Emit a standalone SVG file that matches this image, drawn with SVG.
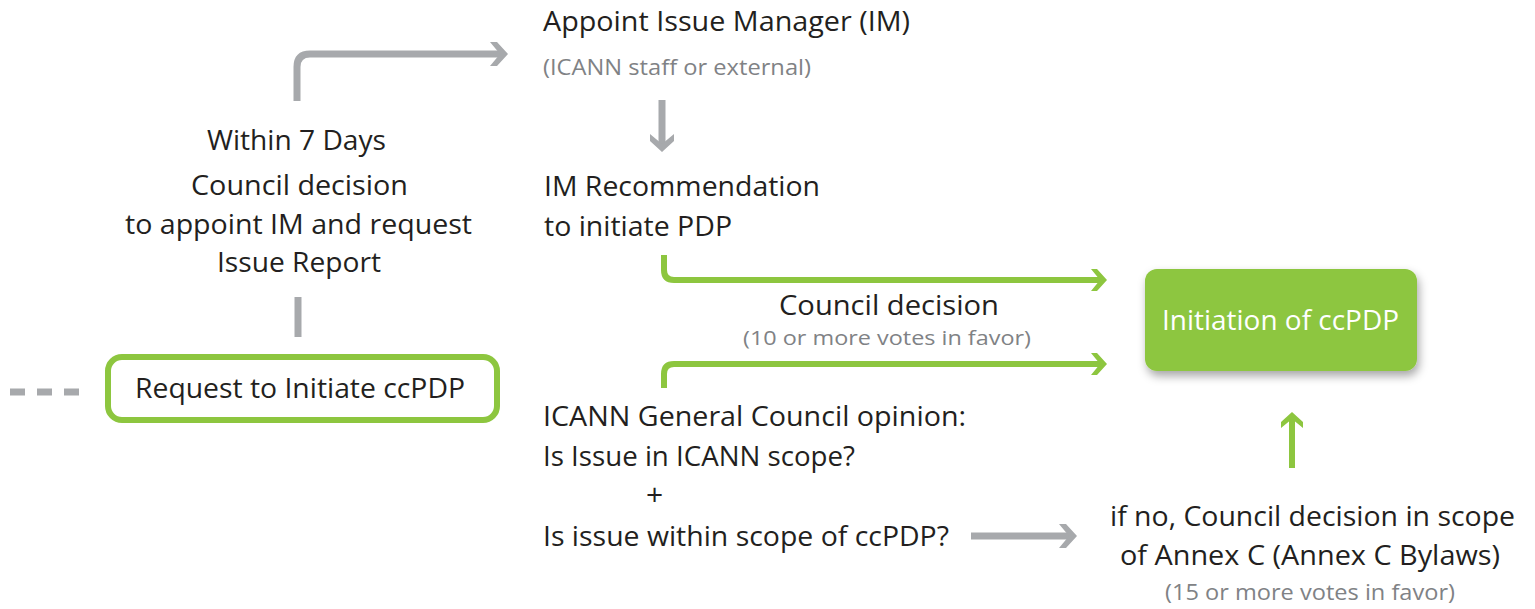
<svg xmlns="http://www.w3.org/2000/svg" width="1535" height="609" viewBox="0 0 1535 609">
<style>
  text { font-family: "Open Sans", "Liberation Sans", sans-serif; }
  .t { font-size: 28px; fill: #231f20; }
  .s { font-size: 22px; fill: #808285; }
  .w { font-size: 28px; fill: #ffffff; }
  .g { fill: none; stroke: #a7a9ac; stroke-width: 7; }
  .gr { fill: none; stroke: #8dc63f; stroke-width: 6; }
</style>
<defs>
  <marker id="ag" markerUnits="userSpaceOnUse" markerWidth="30" markerHeight="30" viewBox="-25 -15 30 30" refX="-5" refY="0" orient="auto">
    <path d="M0,0 L-11,-12 L-18,-12 L-8,0 L-18,12 L-11,12 Z" fill="#a7a9ac"/>
  </marker>
  <marker id="agr" markerUnits="userSpaceOnUse" markerWidth="30" markerHeight="30" viewBox="-25 -15 30 30" refX="-5" refY="0" orient="auto">
    <path d="M0,0 L-10,-11 L-16,-11 L-7,0 L-16,11 L-10,11 Z" fill="#8dc63f"/>
  </marker>
  <filter id="sh" x="-20%" y="-20%" width="140%" height="160%">
    <feDropShadow dx="2" dy="5" stdDeviation="5" flood-color="#000" flood-opacity="0.35"/>
  </filter>
</defs>

<g id="connectors">
  <path class="g" d="M297,101 V67 Q297,54 310,54 H503" marker-end="url(#ag)"/>
  <path class="g" d="M662,100 V147" marker-end="url(#ag)"/>
  <path class="gr" d="M664,255 V270 Q664,280 674,280 H1102" marker-end="url(#agr)"/>
  <path class="gr" d="M664,388 V374 Q664,364 674,364 H1102" marker-end="url(#agr)"/>
  <path class="g" d="M298,297 V337"/>
  <path class="g" d="M10,392 H80" stroke-dasharray="15,12"/>
  <path class="g" d="M971,536 H1072" marker-end="url(#ag)"/>
  <path class="gr" d="M1292,468 V417" marker-end="url(#agr)"/>
</g>

<g id="appoint-im">
  <text class="t" x="543" y="31" textLength="367" lengthAdjust="spacingAndGlyphs">Appoint Issue Manager (IM)</text>
  <text class="s" x="543" y="75" textLength="268" lengthAdjust="spacingAndGlyphs">(ICANN staff or external)</text>
</g>

<g id="council-decision-appoint">
  <text class="t" x="207" y="150" textLength="179" lengthAdjust="spacingAndGlyphs">Within 7 Days</text>
  <text class="t" x="191" y="195" textLength="217" lengthAdjust="spacingAndGlyphs">Council decision</text>
  <text class="t" x="125" y="234" textLength="347" lengthAdjust="spacingAndGlyphs">to appoint IM and request</text>
  <text class="t" x="217" y="272" textLength="164" lengthAdjust="spacingAndGlyphs">Issue Report</text>
</g>

<g id="im-recommendation">
  <text class="t" x="544" y="196" textLength="276" lengthAdjust="spacingAndGlyphs">IM Recommendation</text>
  <text class="t" x="544" y="236" textLength="188" lengthAdjust="spacingAndGlyphs">to initiate PDP</text>
</g>

<g id="council-decision-label">
  <text class="t" x="779" y="315" textLength="220" lengthAdjust="spacingAndGlyphs">Council decision</text>
  <text class="s" x="743" y="345" style="font-size:20px" textLength="288" lengthAdjust="spacingAndGlyphs">(10 or more votes in favor)</text>
</g>

<g id="request">
  <rect x="108" y="357" width="389" height="63" rx="14" fill="#ffffff" stroke="#8dc63f" stroke-width="6"/>
  <text class="t" x="135" y="398" textLength="330" lengthAdjust="spacingAndGlyphs">Request to Initiate ccPDP</text>
</g>

<g id="initiation">
  <rect x="1145" y="269" width="272" height="102" rx="12" fill="#8dc63f" filter="url(#sh)"/>
  <text class="w" x="1162" y="330" textLength="237" lengthAdjust="spacingAndGlyphs">Initiation of ccPDP</text>
</g>

<g id="icann-opinion">
  <text class="t" x="543" y="426" textLength="423" lengthAdjust="spacingAndGlyphs">ICANN General Council opinion:</text>
  <text class="t" x="543" y="466" textLength="312" lengthAdjust="spacingAndGlyphs">Is Issue in ICANN scope?</text>
  <text class="t" x="646" y="505" style="font-size:30px">+</text>
  <text class="t" x="543" y="546" textLength="406" lengthAdjust="spacingAndGlyphs">Is issue within scope of ccPDP?</text>
</g>

<g id="annex-c">
  <text class="t" x="1110" y="526" textLength="405" lengthAdjust="spacingAndGlyphs">if no, Council decision in scope</text>
  <text class="t" x="1120" y="565" textLength="380" lengthAdjust="spacingAndGlyphs">of Annex C (Annex C Bylaws)</text>
  <text class="s" x="1165" y="600" textLength="290" lengthAdjust="spacingAndGlyphs">(15 or more votes in favor)</text>
</g>
</svg>
